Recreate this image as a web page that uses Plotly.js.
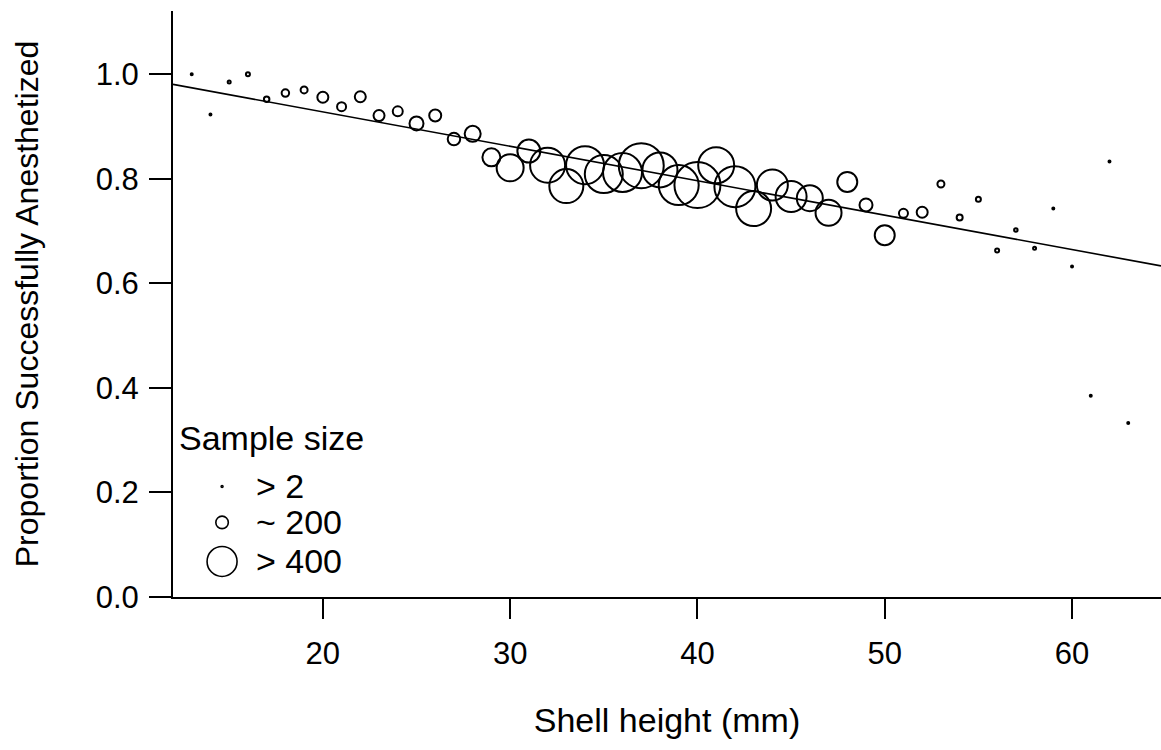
<!DOCTYPE html>
<html><head><meta charset="utf-8">
<script src="https://cdn.plot.ly/plotly-3.0.1.min.js"></script>
<style>html,body{margin:0;padding:0;background:#fff;} #chart{width:1161px;height:750px;}</style>
</head><body><div id="chart"></div>
<script>
const shellHeight = [13,14,15,16,17,18,19,20,21,22,23,24,25,26,27,28,29,30,31,32,33,34,35,36,37,38,39,40,41,42,43,44,45,46,47,48,49,50,51,52,53,54,55,56,57,58,59,60,61,62,63];
const proportion = [1.0,0.923,0.985,1.0,0.952,0.964,0.970,0.956,0.938,0.957,0.921,0.929,0.906,0.921,0.876,0.886,0.841,0.821,0.853,0.826,0.786,0.826,0.809,0.812,0.825,0.817,0.788,0.788,0.826,0.785,0.743,0.788,0.766,0.763,0.735,0.794,0.750,0.692,0.734,0.736,0.790,0.726,0.761,0.663,0.702,0.667,0.743,0.632,0.385,0.833,0.333];
const sampleSize = [3,3,48,64,88,120,112,176,144,176,176,160,224,192,200,256,288,432,368,560,544,608,608,624,720,560,640,736,576,656,560,496,496,416,416,320,208,320,144,176,112,96,80,64,56,48,5,4,3,3,3];
const fitX = [12, 64.75];
const fitY = [0.9806, 0.6334];
const xTicks = [20,30,40,50,60];
const yTicks = [0,0.2,0.4,0.6,0.8,1.0];
const yTickText = ['0.0','0.2','0.4','0.6','0.8','1.0'];
const xTitle = 'Shell height (mm)';
const yTitle = 'Proportion Successfully Anesthetized';
const legendTitle = 'Sample size';
const legendLabels = ['> 2','~ 200','> 400'];
const legendSizes = [2,200,480];
const legendX = [14.62,14.62,14.62];
const legendY = [0.2116,0.1427,0.068];

const SIZEREF = 16;
const FAM = '"Liberation Sans", Arial, sans-serif';
const tickFont = {family:FAM, size:31, color:'#000'};
const textFont = {family:FAM, size:34, color:'#000'};
const yTitleFont = {family:FAM, size:32, color:'#000'};

const traces = [
  {
    x: shellHeight, y: proportion, type:'scatter', mode:'markers',
    marker:{symbol:'circle-open', color:'#000', opacity:1, size: sampleSize, sizemode:'diameter', sizeref: SIZEREF, sizemin: 1,
      line:{color:'#000', width: 2}},
    hoverinfo:'skip', showlegend:false, cliponaxis:false
  },
  {
    x: fitX, y: fitY, type:'scatter', mode:'lines',
    line:{color:'#000', width:1.6}, hoverinfo:'skip', showlegend:false
  },
  {
    x: legendX, y: legendY, type:'scatter', mode:'markers',
    marker:{symbol:'circle-open', color:'#000', opacity:1, size: legendSizes, sizemode:'diameter', sizeref: SIZEREF, sizemin: 1,
      line:{color:'#000', width: legendSizes.map(n => n < 10 ? 1.5 : 1.6)}},
    hoverinfo:'skip', showlegend:false, cliponaxis:false
  }
];

const annotations = [
  {text: legendTitle, xref:'x', yref:'y', x:12.22, y:0.3035, xanchor:'left', yanchor:'middle', showarrow:false, font:textFont}
].concat(legendLabels.map((t,i)=>({
  text:t, xref:'x', yref:'y', x:16.32, y:legendY[i], xanchor:'left', yanchor:'middle', showarrow:false, font:textFont
})));

const layout = {
  width:1161, height:750,
  margin:{l:173, r:0, t:11, b:153},
  paper_bgcolor:'#fff', plot_bgcolor:'#fff',
  font: tickFont,
  showlegend:false,
  xaxis:{range:[12,64.75], tickvals:xTicks, ticks:'outside', ticklen:20, tickwidth:2, tickcolor:'#000',
    showline:true, linewidth:2, linecolor:'#000', showgrid:false, zeroline:false, tickfont:tickFont,
    ticklabelstandoff:8,
    title:{text:xTitle, font:textFont, standoff:38}},
  yaxis:{range:[0,1.121], tickvals:yTicks, ticktext:yTickText, ticks:'outside', ticklen:22, tickwidth:2, tickcolor:'#000',
    showline:true, linewidth:2, linecolor:'#000', showgrid:false, zeroline:false, tickfont:tickFont,
    ticklabelstandoff:4,
    title:{text:yTitle, font:yTitleFont, standoff:47}},
  shapes:[
    {type:'line', xref:'paper', yref:'paper', x0:-0.024, x1:0, y0:0, y1:0, line:{color:'#000', width:2}}
  ],
  annotations: annotations
};

Plotly.newPlot('chart', traces, layout, {staticPlot:true, displayModeBar:false});
</script>
</body></html>
